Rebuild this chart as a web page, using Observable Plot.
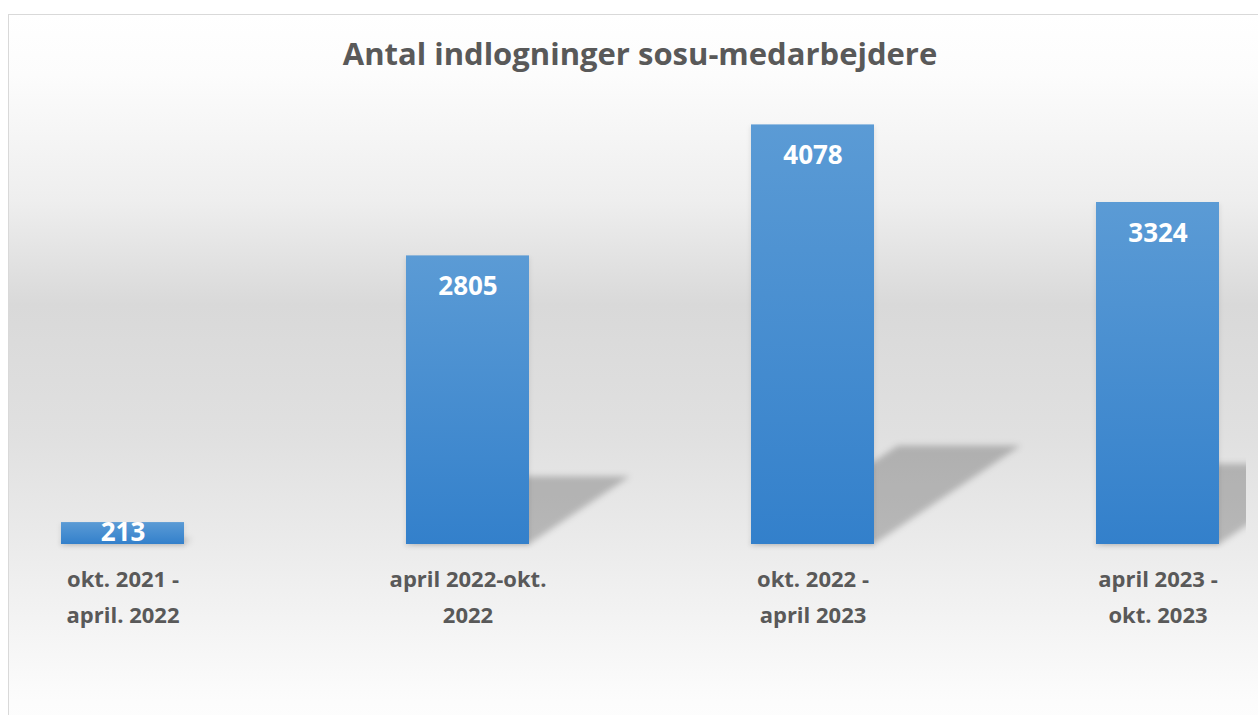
<!DOCTYPE html>
<html>
<head>
<meta charset="utf-8">
<script src="https://cdn.jsdelivr.net/npm/d3@7"></script>
<script src="https://cdn.jsdelivr.net/npm/@observablehq/plot@0.6"></script>
<style>
  html, body { margin: 0; padding: 0; background: #ffffff; }
  #wrap { position: relative; width: 1258px; height: 715px; overflow: hidden; }
  #bg {
    position: absolute; left: 8px; top: 14px; width: 1320px; height: 760px;
    box-sizing: border-box; border: 1.5px solid #d9d9d9;
    background: linear-gradient(to bottom,
      #ffffff 0px, #fcfcfc 60px, #eeeeee 186px, #d9d9d9 290px,
      #e0e0e0 420px, #ebebeb 530px, #fcfcfc 686px, #ffffff 760px);
  }
  #title {
    position: absolute; left: 0; top: 38px; width: 1280px; text-align: center;
    font-family: "Open Sans", Lato, sans-serif; font-weight: 700; font-size: 31px;
    line-height: 31px; color: #595959; white-space: nowrap;
  }
  #chart { position: absolute; left: 0; top: 0; }
</style>
</head>
<body>
<div id="wrap">
  <div id="bg"></div>
  <div id="chart"></div>
  <div id="title">Antal indlogninger sosu-medarbejdere</div>
</div>
<script>
const titleText = "Antal indlogninger sosu-medarbejdere";
const categories = [
  "okt. 2021 -\napril. 2022",
  "april 2022-okt.\n2022",
  "okt. 2022 -\napril 2023",
  "april 2023 -\nokt. 2023"
];
const values = [213, 2805, 4078, 3324];

document.getElementById("title").textContent = titleText;

const data = categories.map((c, i) => ({cat: c, value: values[i]}));

const FONT = "'Open Sans', Lato, sans-serif";

function defsMark() {
  const svgNS = "http://www.w3.org/2000/svg";
  const defs = document.createElementNS(svgNS, "defs");
  defs.innerHTML = `
    <linearGradient id="barGrad" x1="0" y1="0" x2="0" y2="1">
      <stop offset="0" stop-color="#5b9bd5"/>
      <stop offset="1" stop-color="#3380cb"/>
    </linearGradient>
    <filter id="shadowBlur" x="-20%" y="-20%" width="140%" height="140%">
      <feGaussianBlur stdDeviation="3"/>
    </filter>
    <filter id="softBlur" x="-20%" y="-50%" width="140%" height="200%">
      <feGaussianBlur stdDeviation="2"/>
    </filter>
    <clipPath id="shadowClip">
      <rect x="0" y="0" width="1246" height="715"/>
    </clipPath>`;
  return defs;
}

function shadowMark(index, scales) {
  const sx = scales.x, sy = scales.y;
  const bw = typeof sx.bandwidth === "function" ? sx.bandwidth() : 123;
  const g = d3.create("svg:g").attr("clip-path", "url(#shadowClip)");
  const yb = sy(0);
  const cast = g.append("g").attr("filter", "url(#shadowBlur)");
  for (const d of data) {
    const x0 = sx(d.cat), x1 = x0 + bw;
    const h = yb - sy(d.value);
    const s = 0.35 * h, v = 0.235 * h;
    cast.append("polygon")
      .attr("points", [[x0, yb], [x1, yb], [x1 + s, yb - v], [x0 + s, yb - v]].map(p => p.join(",")).join(" "))
      .attr("fill", "#000").attr("fill-opacity", 0.22);
  }
  const soft = g.append("g").attr("filter", "url(#softBlur)");
  for (const d of data) {
    const x0 = sx(d.cat);
    soft.append("rect")
      .attr("x", x0 - 1).attr("y", sy(d.value) + 2)
      .attr("width", bw + 2).attr("height", yb - sy(d.value))
      .attr("fill", "#000").attr("fill-opacity", 0.08);
  }
  return g.node();
}

const bigData = data.filter(d => d.value >= 1000);
const smallData = data.filter(d => d.value < 1000);

const chart = Plot.plot({
  width: 1258,
  height: 715,
  marginTop: 81,
  marginBottom: 171,
  marginLeft: 0,
  marginRight: 0,
  style: {background: "transparent", overflow: "visible", fontFamily: FONT},
  x: {domain: categories, range: [-51.15, 1330.15], paddingInner: 0.644, paddingOuter: 0.322, axis: null},
  y: {domain: [0, 4500], axis: null},
  marks: [
    defsMark,
    shadowMark,
    Plot.barY(data, {x: "cat", y: "value", fill: "url(#barGrad)"}),
    Plot.text(bigData, {
      x: "cat", y: "value", text: d => String(d.value), dy: 31,
      fill: "#ffffff", fontSize: 26, fontWeight: 700, fontFamily: FONT
    }),
    Plot.text(smallData, {
      x: "cat", y: d => d.value / 2, text: d => String(d.value), dy: -1,
      fill: "#ffffff", fontSize: 26, fontWeight: 700, fontFamily: FONT
    }),
    Plot.text(categories, {
      x: d => d, frameAnchor: "bottom", text: d => d, lineAnchor: "top",
      dy: 18, lineHeight: 1.6, fill: "#595959", fontSize: 22, fontWeight: 700, fontFamily: FONT
    })
  ]
});

document.getElementById("chart").appendChild(chart);
</script>
</body>
</html>
